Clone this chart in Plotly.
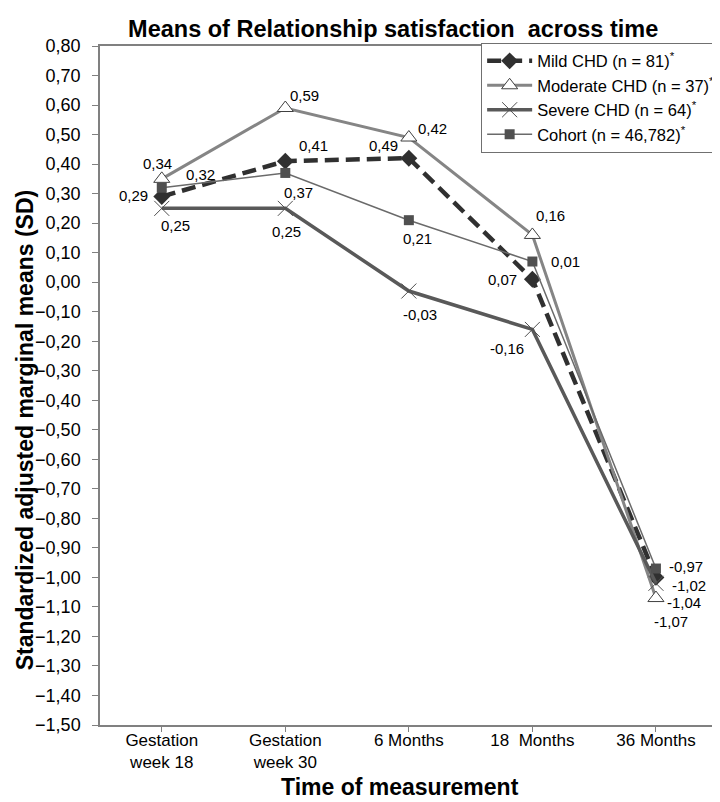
import plotly.graph_objects as go

# ---- data ----
categories = ["Gestation<br>week 18", "Gestation<br>week 30", "6 Months", "18  Months", "36 Months"]
series_names = [
    "Mild CHD (n = 81)<sup>*</sup>",
    "Moderate CHD (n = 37)<sup>*</sup>",
    "Severe CHD (n = 64)<sup>*</sup>",
    "Cohort (n = 46,782)<sup>*</sup>",
]
mild = [0.29, 0.41, 0.42, 0.01, -1.00]
moderate = [0.35, 0.59, 0.49, 0.16, -1.07]
severe = [0.25, 0.25, -0.03, -0.16, -1.02]
cohort = [0.32, 0.37, 0.21, 0.07, -0.97]

mild_labels = ["0,29", "0,41", "0,42", "0,01", "-1,04"]
moderate_labels = ["0,34", "0,59", "0,49", "0,16", "-1,07"]
severe_labels = ["0,25", "0,25", "-0,03", "-0,16", "-1,02"]
cohort_labels = ["0,32", "0,37", "0,21", "0,07", "-0,97"]

y_tick_vals = [round(-1.5 + 0.1 * i, 2) for i in range(24)]

# ---- styling (label offsets in px: dx right, dy down) ----
mild_off = [(-28, -1), (28, -16), (24, -30), (33, -18), (28, 25)]
moderate_off = [(-4, -15), (19, -13), (-25, 8), (18, -19), (15, 23)]
severe_off = [(14, 17), (1, 23), (11, 23), (-25, 19), (33, 2)]
cohort_off = [(39, -13), (13, 20), (9, 18), (-30, 18), (30, -2)]

FONT = "Liberation Sans, Arial, sans-serif"

fig = go.Figure()

fig.add_trace(go.Scatter(
    x=categories, y=mild, name=series_names[0], mode="lines+markers",
    line=dict(color="#303030", width=4.5, dash="14px,7px"),
    marker=dict(symbol="diamond", size=13, color="#303030"),
))
fig.add_trace(go.Scatter(
    x=categories, y=moderate, name=series_names[1], mode="lines+markers",
    line=dict(color="#858585", width=3),
    marker=dict(symbol="triangle-up", size=14, color="white",
                line=dict(color="#404040", width=1)),
))
fig.add_trace(go.Scatter(
    x=categories, y=severe, name=series_names[2], mode="lines+markers",
    line=dict(color="#595959", width=3.5),
    marker=dict(symbol="x-thin-open", size=15, color="#505050",
                line=dict(color="#505050", width=1)),
))
fig.add_trace(go.Scatter(
    x=categories, y=cohort, name=series_names[3], mode="lines+markers",
    line=dict(color="#6a6a6a", width=1.5),
    marker=dict(symbol="square", size=10, color="#505050"),
))

annotations = []
for vals, labs, offs in [
    (mild, mild_labels, mild_off),
    (moderate, moderate_labels, moderate_off),
    (severe, severe_labels, severe_off),
    (cohort, cohort_labels, cohort_off),
]:
    for c, v, t, (dx, dy) in zip(categories, vals, labs, offs):
        annotations.append(dict(
            x=c, y=v, xref="x", yref="y", text=t, showarrow=False,
            xshift=dx, yshift=-dy, font=dict(family=FONT, size=15, color="black"),
        ))

# axis titles as annotations for exact placement
annotations.append(dict(
    text="<b>Standardized adjusted marginal means (SD)</b>", textangle=-90,
    xref="paper", yref="paper", x=-0.1226, y=0.435, xanchor="center", yanchor="middle",
    showarrow=False, font=dict(family=FONT, size=23, color="black"),
))
annotations.append(dict(
    text="<b>Time of measurement</b>",
    xref="paper", yref="paper", x=0.489, y=-0.092, xanchor="center", yanchor="middle",
    showarrow=False, font=dict(family=FONT, size=23, color="black"),
))

fig.update_layout(
    width=720, height=802,
    paper_bgcolor="white", plot_bgcolor="white",
    margin=dict(l=92, r=8, t=38, b=85),
    separators=", ",
    title=dict(text="<b>Means of Relationship satisfaction  across time</b>",
               x=0.535, xanchor="center", y=0.9738, yanchor="middle",
               font=dict(family=FONT, size=23.5, color="black")),
    showlegend=True,
    legend=dict(x=1.01, xanchor="right", y=1.005, yanchor="top",
                bgcolor="white", bordercolor="#707070", borderwidth=1,
                font=dict(family=FONT, size=16.5, color="black"),
                itemwidth=45, tracegroupgap=0),
    annotations=annotations,
    font=dict(family=FONT, color="black"),
)

fig.update_xaxes(
    type="category", range=[-0.5, 4.47],
    showgrid=False, showline=True, linecolor="#808080", linewidth=1.5, mirror=True,
    ticks="outside", ticklen=5, tickcolor="#808080", ticklabelstandoff=-6,
    tickfont=dict(family=FONT, size=17, color="black"),
)
fig.update_yaxes(
    range=[-1.5, 0.8], tickvals=y_tick_vals, tickformat=".2f",
    showgrid=False, zeroline=False, showline=True, linecolor="#808080", linewidth=1.5, mirror=True,
    ticks="outside", ticklen=6, tickcolor="#808080", ticklabelstandoff=8,
    tickfont=dict(family=FONT, size=18, color="black"),
)

fig.write_html("out.html")
